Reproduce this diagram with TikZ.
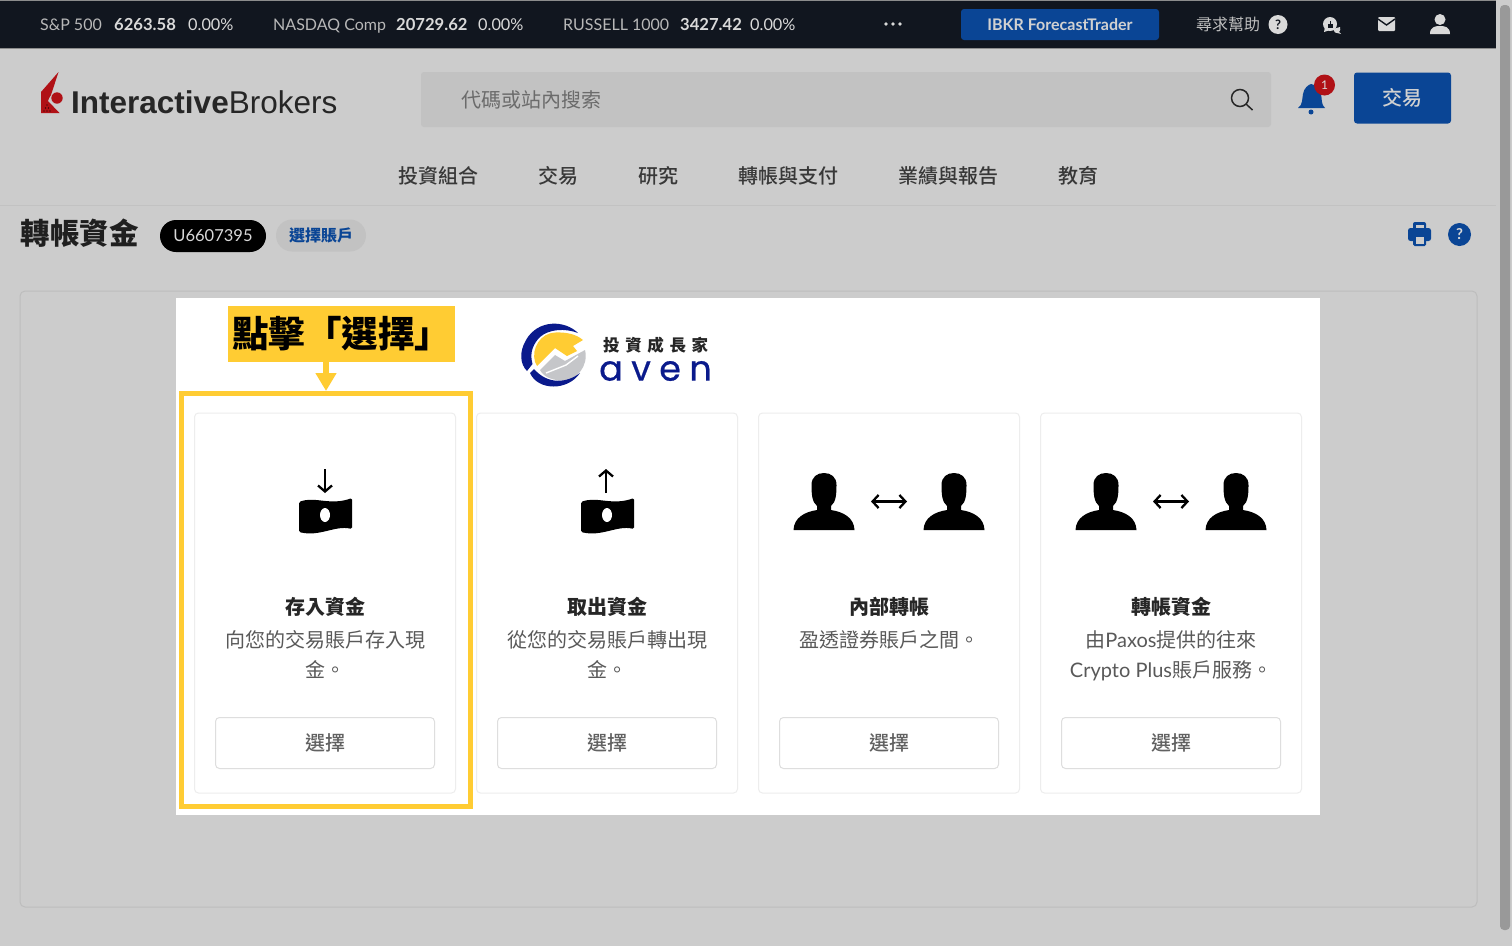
\documentclass[tikz,border=0pt]{standalone}
\usepackage{fontspec}
\usetikzlibrary{arrows.meta}
\setmainfont{Noto Sans CJK TC}
\newfontfamily\medf{Noto Sans CJK TC Medium}
\newfontfamily\latinf{Lato}
\newfontfamily\brandf{Liberation Sans}
\newfontfamily\avenf[LetterSpace=24,FakeBold=0.6]{Poppins}
\newfontfamily\logocjk[LetterSpace=34]{Noto Sans CJK TC}
\definecolor{pagebg}{HTML}{CCCCCC}
\definecolor{headbar}{HTML}{11161F}
\definecolor{ibblue}{HTML}{0A4595}
\definecolor{ibred}{HTML}{B01116}
\definecolor{callout}{HTML}{FFCC33}
\definecolor{logoblue}{HTML}{0A1A8C}
\definecolor{logogrey}{HTML}{C5C6C9}
\newcommand{\fs}[1]{\fontsize{#1}{#1}\selectfont}
\tikzset{
  tick/.style={text=black!28,anchor=base west,inner sep=0,font=\latinf\fs{16}},
  tickp/.style={text=black!15,anchor=base west,inner sep=0,font=\latinf\fs{16.3}},
  tickb/.style={text=black!15,anchor=base west,inner sep=0,font=\latinf\fs{16.6}\bfseries},
  nav/.style={text=black!78,inner sep=0,font=\medf\fs{20}},
  cardbox/.style={draw=black!7,line width=1pt,fill=white,rounded corners=4pt},
  btnbox/.style={draw=black!13,line width=1pt,fill=white,rounded corners=4pt,minimum width=219pt,minimum height=51pt,inner sep=0,text=black!62,font=\medf\fs{20}},
  ctitle/.style={inner sep=0,text=black!85,font=\fs{20}\bfseries},
  cdesc/.style={inner sep=0,anchor=north,align=center,text=black!65,font=\fontsize{20}{30}\selectfont},
  pics/cash/.style={code={
    \fill[black,rounded corners=1.5pt] (-26,7) .. controls (-10,1) and (5,11) .. (27,3) -- (27,34) .. controls (10,30) and (-5,42) .. (-26,37) -- cycle;
    \fill[white] (0,20) ellipse (5 and 7);
  }},
  pics/person/.style={code={
    \fill[black] (-30.5,0) .. controls (-30,-12) and (-20,-18) .. (-7,-20) -- (-7,-24)
      .. controls (-12,-28) and (-12.5,-36) .. (-12.5,-45) .. controls (-12.5,-53) and (-7,-57) .. (0,-57)
      .. controls (7,-57) and (12.5,-53) .. (12.5,-45) .. controls (12.5,-36) and (12,-28) .. (7,-24)
      -- (7,-20) .. controls (20,-18) and (30,-12) .. (30.5,0) -- cycle;
  }},
  pics/swap/.style={code={
    \coordinate (-l) at (-18,0); \coordinate (-r) at (18,0);
    \draw[black,line width=2.3pt,{Straight Barb[length=6pt,width=13pt]}-{Straight Barb[length=6pt,width=13pt]}] (-l) -- (-r);
  }},
  bigarrow/.style={draw=callout,line width=6pt,-{Triangle[length=18pt,width=20pt]},shorten >=0pt},
}
\begin{document}
\begin{tikzpicture}[x=1pt,y=-1pt]
\useasboundingbox (0,0) rectangle (1512,946);
\fill[pagebg] (0,0) rectangle (1512,946);
% top bar
\fill[headbar] (0,1) rectangle (1496,48);
\fill[black!45] (0,0) rectangle (1496,1);
\fill[black!45] (0,48) rectangle (1496,49);
\node[tick] (t1) at (40,30) {S\&P 500};
\node[tickb] (t2) at (114,30) {6263.58};
\node[tickp] (t3) at (188,30) {0.00\%};
\node[tick] (t4) at (273,30) {NASDAQ Comp};
\node[tickb] (t5) at (396,30) {20729.62};
\node[tickp] (t6) at (478,30) {0.00\%};
\node[tick] (t7) at (563,30) {RUSSELL 1000};
\node[tickb] (t8) at (680,30) {3427.42};
\node[tickp] (t9) at (750,30) {0.00\%};
\foreach \x in {886,893,900} \fill[black!15] (\x,24) circle (1.8);
\node[fill=ibblue,rounded corners=3pt,minimum width=198pt,minimum height=31pt,inner sep=0,text=black!18,font=\latinf\fs{16}\bfseries] (fc) at (1060,24.5) {IBKR ForecastTrader};
\node[inner sep=0,text=black!25,font=\fs{16}] (help) at (1228,24) {尋求幫助};
\node[circle,fill=black!15,minimum size=19pt,inner sep=0,text=headbar,font=\latinf\fs{13}\bfseries] (helpq) at (1278,24.5) {?};
% chat icon
\fill[black!15] (1330,24) circle (7);
\fill[black!15] (1325,27) -- (1324,32) -- (1330,30) -- cycle;
\fill[black!15] (1333,29) -- (1340,27) .. controls (1341,29) and (1340,31) .. (1339,32) -- (1341,34) -- (1335,32.5) -- cycle;
\fill[headbar] (1327.5,23.5) rectangle (1333,27.5);
\fill[headbar] (1329.5,20.5) rectangle (1331,24);
% mail icon
\fill[black!15,rounded corners=1pt] (1378,17) rectangle (1395,31);
\draw[headbar,line width=1.4pt] (1378,19) -- (1386.5,25) -- (1395,19);
% person icon
\fill[black!15] (1440,19.5) circle (5.5);
\fill[black!15] (1430,34) .. controls (1430,27) and (1435,26) .. (1440,26) .. controls (1445,26) and (1450,27) .. (1450,34) -- cycle;
% scrollbar
\fill[black!40,rounded corners=4pt] (1500,5) rectangle (1510,930);
% logo
\fill[ibred] (41,113) -- (41,92) -- (58.5,72) -- (51,95) .. controls (49.5,97) and (48.5,99) .. (48,101) -- (59.5,113) -- cycle;
\fill[ibred] (57,98) circle (5.7);
\foreach \px/\py in {47/105,45.5/108,48.5/108,44/111,47/111,50/111} \fill[black] (\px,\py) circle (0.7);
\node[inner sep=0,anchor=base west,text=black!85,font=\brandf\fs{31.5}] (ibname) at (71,113) {\textbf{Interactive}Brokers};
% search
\node[fill=black!24,rounded corners=3pt,minimum width=850pt,minimum height=55pt,inner sep=0] (search) at (846,99.5) {};
\node[inner sep=0,anchor=west,text=black!58,font=\fs{20}] (placeholder) at (461,99.5) {代碼或站內搜索};
\draw[black!85,line width=1.5pt] (1240,98) circle (8.5);
\draw[black!85,line width=1.5pt] (1246,104) -- (1252.5,110);
% bell
\fill[ibblue] (1298,108) .. controls (1303,105) and (1302,98) .. (1303,94) .. controls (1304,88) and (1308,85) .. (1311,84) .. controls (1316,85) and (1320,88) .. (1321,94) .. controls (1322,98) and (1321,105) .. (1325,108) -- cycle;
\fill[ibblue] (1311,112) circle (2.5);
\node[circle,fill=ibred,minimum size=21pt,inner sep=0,text=black!15,font=\latinf\fs{12}] (badge) at (1324.5,85) {1};
\node[fill=ibblue,rounded corners=3pt,minimum width=97pt,minimum height=51pt,inner sep=0,text=black!18,font=\medf\fs{20}] (trade) at (1402.5,98) {交易};
% nav
\node[nav] (n1) at (438,175.5) {投資組合};
\node[nav] (n2) at (558,175.5) {交易};
\node[nav] (n3) at (658,175.5) {研究};
\node[nav] (n4) at (788,175.5) {轉帳與支付};
\node[nav] (n5) at (948,175.5) {業績與報告};
\node[nav] (n6) at (1078,175.5) {教育};
\fill[black!24] (0,204.5) rectangle (1496,206);
% sub header
\node[inner sep=0,text=black!88,font=\fs{29.5}\bfseries] (pagetitle) at (79.5,233.5) {轉帳資金};
\node[fill=black,rounded corners=16pt,minimum width=106pt,minimum height=32pt,inner sep=0,text=black!15,font=\latinf\fs{16.5}] (acct) at (213,236) {U6607395};
\node[fill=black!24,rounded corners=16pt,minimum width=90pt,minimum height=32pt,inner sep=0,text=ibblue,font=\fs{16}\bfseries] (choose) at (321,235.5) {選擇賬戶};
% printer
\fill[ibblue,rounded corners=2pt] (1413,222) rectangle (1426,230);
\fill[pagebg] (1415.5,224.5) rectangle (1423.5,230);
\fill[ibblue,rounded corners=2.5pt] (1408,228) rectangle (1431,241);
\fill[ibblue,rounded corners=1.5pt] (1413,236) rectangle (1426,246);
\fill[pagebg] (1415.5,237) rectangle (1423.5,243.5);
\node[circle,fill=ibblue,minimum size=23pt,inner sep=0,text=black!15,font=\latinf\fs{15}\bfseries] (qmark) at (1459.5,234.5) {?};
% main panel
\draw[black!26,line width=1pt,fill=pagebg,rounded corners=5pt] (20,291) rectangle (1477,907);
\fill[white] (176,298) rectangle (1320,815);
% cards
\foreach \x in {194.5,476.5,758.5,1040.5} \draw[cardbox] (\x,413) rectangle ++(261,380);
% frame and callout
\node[draw=callout,line width=5pt,minimum width=289pt,minimum height=413pt,inner sep=0] (frame) at (326,600) {};
\node[fill=callout,minimum width=227pt,minimum height=56pt,inner sep=0,text=black,font=\fs{36.5}\bfseries] (call) at (341.5,334) {點擊「選擇」};
\coordinate (arrowstart) at (326,362);
\draw[bigarrow] (arrowstart) -- (arrowstart |- frame.north);
% brand logo
\fill[logogrey] (585,350) .. controls (589,366) and (576,380) .. (565,380.5) .. controls (555,381) and (544,378) .. (540,370) -- (555,355) -- (565,361) -- cycle;
\draw[white,line width=1.4pt] (546,373) -- (566,365) -- (578,356);
\fill[callout] (535,362) .. controls (531,348) and (541,333) .. (555,332.5) .. controls (566,332) and (576,334) .. (583,340) -- (573,346) -- (577,351) -- (567,356) -- (555,348) -- (537,366) -- cycle;
\fill[logoblue] (578,333) .. controls (565,320) and (538,319) .. (526,340) .. controls (519,352) and (520,364) .. (527,371) -- (532.5,364) .. controls (529,352) and (534,343) .. (540,337) .. controls (549,329) and (565,328) .. (578,333) -- cycle;
\fill[logoblue] (530,373) .. controls (538,391) and (568,391) .. (580,373) .. controls (567,383) and (548,385) .. (534,369) -- cycle;
\node[inner sep=0,anchor=west,text=black!85,font=\logocjk\fs{16.5}\bfseries] (logozh) at (603,345) {投資成長家};
\node[inner sep=0,anchor=west,text=logoblue,font=\avenf\fs{35}] (logoen) at (599,371) {aven};
% card 1
\pic at (325,495) {cash};
\coordinate (d1a) at (325,469); \coordinate (d1b) at (325,493);
\draw[black,line width=2.3pt,-{Straight Barb[length=6pt,width=14pt]}] (d1a) -- (d1b);
\node[ctitle] (c1t) at (325,607) {存入資金};
\node[cdesc] (c1d) at (325,630) {向您的交易賬戶存入現\\金。};
\node[btnbox] (c1b) at (325,743) {選擇};
% card 2
\pic at (607,495) {cash};
\coordinate (d2a) at (606,493); \coordinate (d2b) at (606,469);
\draw[black,line width=2.3pt,-{Straight Barb[length=6pt,width=14pt]}] (d2a) -- (d2b);
\node[ctitle] (c2t) at (607,607) {取出資金};
\node[cdesc] (c2d) at (607,630) {從您的交易賬戶轉出現\\金。};
\node[btnbox] (c2b) at (607,743) {選擇};
% card 3
\pic at (824,530) {person};
\pic at (954,530) {person};
\pic at (889,501.5) {swap};
\node[ctitle] (c3t) at (889,607) {內部轉帳};
\node[cdesc] (c3d) at (889,630) {盈透證券賬戶之間。};
\node[btnbox] (c3b) at (889,743) {選擇};
% card 4
\pic at (1106,530) {person};
\pic at (1236,530) {person};
\pic at (1171,501.5) {swap};
\node[ctitle] (c4t) at (1171,607) {轉帳資金};
\node[cdesc] (c4d) at (1171,630) {由{\latinf Paxos}提供的往來\\{\latinf Crypto Plus}賬戶服務。};
\node[btnbox] (c4b) at (1171,743) {選擇};
\end{tikzpicture}
\end{document}
